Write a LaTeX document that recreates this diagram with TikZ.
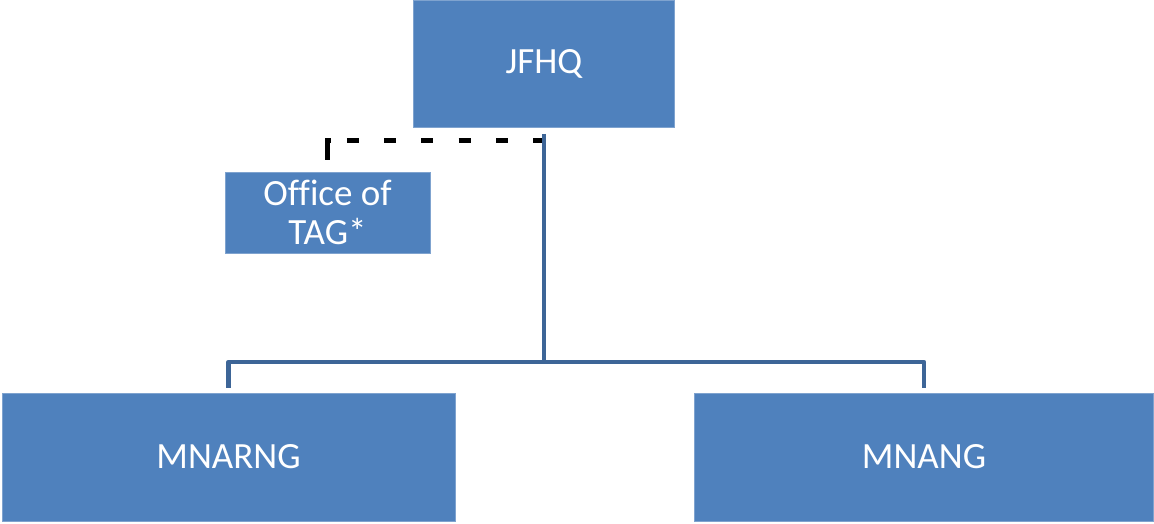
\documentclass[tikz,border=0pt]{standalone}
\usepackage{fontspec}
\setmainfont{Carlito}[Ligatures=NoCommon]
\definecolor{boxblue}{HTML}{4F81BD}
\definecolor{boxedge}{HTML}{7FA3CF}
\definecolor{connblue}{HTML}{3D6597}
\begin{document}
\begin{tikzpicture}[x=1pt,y=-1pt,
  orgbox/.style={fill=boxblue,draw=boxedge,line width=0.8pt,text=white,
    font=\fontsize{37}{39}\selectfont,align=center,inner sep=0pt},
  conn/.style={draw=connblue,line width=4.6pt,line join=round},
  dotconn/.style={draw=black,line width=5pt,
    dash pattern=on 22pt off 16pt on 12pt off 25.3pt on 12pt off 25.3pt on 12pt off 25.3pt on 12pt off 25.3pt on 12pt off 25.3pt on 12pt off 100pt}]
\useasboundingbox (0,0) rectangle (1154,523);
\node[orgbox,minimum width=261pt,minimum height=127pt] (jfhq) at (544,64) {JFHQ};
\node[orgbox,minimum width=205pt,minimum height=81pt] (office) at (327.5,212.5) {Office of\\TAG*};
\node[orgbox,minimum width=453pt,minimum height=128pt] (mnarng) at (228.5,457) {MNARNG};
\node[orgbox,minimum width=459pt,minimum height=128pt] (mnang) at (924,457) {MNANG};
\coordinate (bus) at (544,362);
\draw[dotconn] ([yshift=12pt]office.north) |- ([yshift=-13pt]jfhq.south);
\draw[conn] ([yshift=-6pt]jfhq.south) -- (jfhq.south |- bus);
\draw[conn] ([yshift=5pt]mnarng.north) -- (mnarng.north |- bus) -- (mnang.north |- bus) -- ([yshift=5pt]mnang.north);
\end{tikzpicture}
\end{document}
